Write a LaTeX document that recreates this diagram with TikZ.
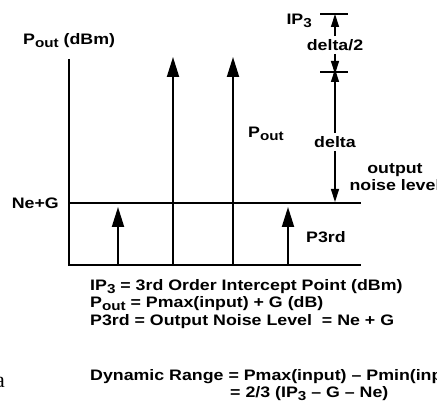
\documentclass[tikz,border=0pt]{standalone}
\usepackage{fontspec}
\setmainfont{Liberation Sans}[FakeStretch=1.17]
\newfontfamily\serifa{Liberation Serif}
\usetikzlibrary{positioning, arrows.meta}
\newcommand{\lowsub}[1]{\raisebox{-3pt}{\fontsize{13}{13}\selectfont #1}}

\begin{document}
\begin{tikzpicture}[
        x=1pt, y=-1pt,
        font=\fontsize{15.2}{17}\selectfont\bfseries,
        axis/.style={line width=1.1pt},
        tone/.style={-{Triangle[length=20pt, width=12pt]}, line width=2pt},
        gap/.style={-{Triangle[length=13pt, width=8pt]}, line width=1.4pt},
        lbl/.style={inner sep=0pt},
        dlbl/.style={inner sep=3pt},
    ]
        \useasboundingbox (0,0) rectangle (437,403);

        % axes and levels
        \draw[axis] (69,59) -- (69,265) -- (361,265);
        \draw[axis] (69,203) -- (361,203);

        % tones
        \coordinate (baseA) at (118,265);
        \coordinate (baseB) at (173,265);
        \coordinate (baseC) at (233,265);
        \coordinate (baseD) at (288,265);
        \coordinate (topA) at (118,207);
        \coordinate (topB) at (173,57);
        \coordinate (topC) at (233,57);
        \coordinate (topD) at (288,207);
        \draw[tone] (baseA) -- (topA);
        \draw[tone] (baseB) -- (topB);
        \draw[tone] (baseC) -- (topC);
        \draw[tone] (baseD) -- (topD);

        % intercept and spacing marks
        \coordinate (ipTop) at (335,14);
        \coordinate (midTick) at (335,72);
        \coordinate (noisePt) at (335,202);
        \draw[axis] ([xshift=-15pt]ipTop) -- ([xshift=13pt]ipTop);
        \draw[axis] ([xshift=-15pt]midTick) -- ([xshift=13pt]midTick);

        \node[dlbl] (halfLbl) at (335,45) {delta/2};
        \node[dlbl] (deltaLbl) at (335,142) {delta};
        \draw[gap] (halfLbl) -- (ipTop);
        \draw[gap] (halfLbl) -- ([yshift=-2pt]midTick);
        \draw[gap] (deltaLbl) -- ([yshift=3pt]midTick);
        \draw[gap] (deltaLbl) -- (noisePt);

        % labels
        \node[lbl, anchor=base west] (yLbl) at (23,45) {P\lowsub{out} (dBm)};
        \node[lbl, anchor=east] (neLbl) at (59,203) {Ne+G};
        \node[lbl, anchor=base east] (ipLbl) at (312,25) {IP\lowsub{3}};
        \node[lbl, anchor=base west] (poutLbl) at (248,138) {P\lowsub{out}};
        \node[lbl, anchor=base west] (p3Lbl) at (306,243) {P3rd};
        \node[lbl, align=center] (noiseLbl) at (395,177) {output\\noise level};

        % definitions
        \node[lbl, anchor=base west] (ipDef) at (90,291) {IP\lowsub{3} = 3rd Order Intercept Point (dBm)};
        \node[lbl, anchor=base west] (poutDef) at (90,308) {P\lowsub{out} = Pmax(input) + G (dB)};
        \node[lbl, anchor=base west] (p3Def) at (90,326) {P3rd = Output Noise Level\ \ = Ne + G};
        \node[lbl, anchor=base west] (dynDef) at (90,381) {Dynamic Range = Pmax(input) \textendash{} Pmin(input)};
        \node[lbl, anchor=base west] (dynEq) at (230,398) {= 2/3 (IP\lowsub{3} \textendash{} G \textendash{} Ne)};

        \node[lbl, anchor=base east, font=\serifa\fontsize{22}{22}\selectfont] (stray) at (5,388) {a};
    \end{tikzpicture}
\end{document}
